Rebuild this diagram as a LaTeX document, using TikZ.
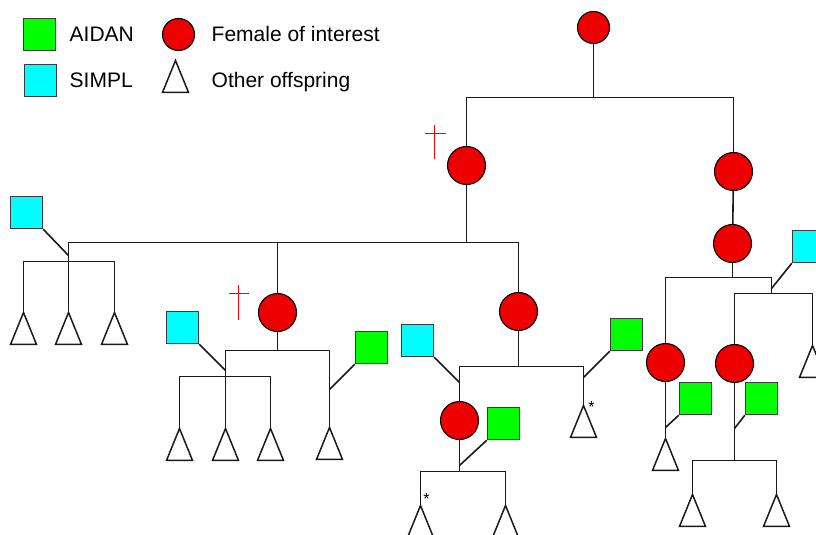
\documentclass[tikz,border=0pt]{standalone}
\usepackage{fontspec}
\setmainfont{Liberation Sans}
\usetikzlibrary{shapes.geometric}
\definecolor{fem}{HTML}{EE0000}
\definecolor{aidan}{HTML}{00FF00}
\definecolor{simpl}{HTML}{00FFFF}
\definecolor{ln}{HTML}{1A1A1A}
\definecolor{crossred}{HTML}{FF0000}
\begin{document}
\begin{tikzpicture}[x=1bp,y=-1bp,
  conn/.style={draw=ln, line width=1.6bp},
  female/.style={circle, draw=black, line width=1.1bp, fill=fem, minimum size=38bp, inner sep=0},
  aidanbox/.style={rectangle, draw=ln!85, line width=1.3bp, fill=aidan, minimum size=32bp, inner sep=0},
  simplbox/.style={rectangle, draw=ln!85, line width=1.3bp, fill=simpl, minimum size=32bp, inner sep=0},
  tri/.style={isosceles triangle, isosceles triangle stretches, shape border rotate=90,
    minimum width=26bp, minimum height=32bp, inner sep=0, draw=ln, line width=1.5bp, fill=white, anchor=apex},
  lbl/.style={anchor=base west, inner sep=0, font=\fontsize{21bp}{25bp}\selectfont},
  star/.style={anchor=base, inner sep=0, font=\fontsize{16bp}{18bp}\selectfont},
  crossmark/.style={draw=crossred, line width=1.1bp}]
\useasboundingbox (0,0) rectangle (816,535);
\clip (0,0) rectangle (816,535);
\begin{scope}[shift={(0.5,0.5)}]
% legend
\node[aidanbox] (lgA) at (39,34) {};
\node[simplbox] (lgS) at (40,80) {};
\node[female, minimum size=32bp] (lgF) at (178,34) {};
\node[tri] (lgT) at (175,58) {};
\node[lbl] (tA) at (69,41) {AIDAN};
\node[lbl] (tS) at (69,87) {SIMPL};
\node[lbl] (tF) at (211,41) {Female of interest};
\node[lbl] (tO) at (211,87) {Other offspring};
% females
\node[female, minimum size=32bp] (F0) at (593,27) {};
\node[female] (F1) at (466,165) {};
\node[female] (F2) at (733,171) {};
\node[female] (F3) at (732,243) {};
\node[female] (F4) at (277,312) {};
\node[female] (F5) at (518,311) {};
\node[female] (F6) at (459,420) {};
\node[female] (F7) at (665,362) {};
\node[female] (F8) at (734,363) {};
% males
\node[simplbox] (S1) at (26,212) {};
\node[simplbox] (S2) at (182,327) {};
\node[simplbox] (S3) at (417,340) {};
\node[simplbox] (S4) at (808,246) {};
\node[aidanbox] (G1) at (371,347) {};
\node[aidanbox] (G2) at (503,423) {};
\node[aidanbox] (G3) at (626,334) {};
\node[aidanbox] (G4) at (695,398) {};
\node[aidanbox] (G5) at (761,398) {};
% offspring
\node[tri] (T1a) at (23,310) {};
\node[tri] (T1b) at (68,310) {};
\node[tri] (T1c) at (114,310) {};
\node[tri] (T2a) at (179,426) {};
\node[tri] (T2b) at (225,426) {};
\node[tri] (T2c) at (270,426) {};
\node[tri] (T2d) at (329,425) {};
\node[tri] (T3) at (583,403) {};
\node[tri] (T4a) at (420,503) {};
\node[tri] (T4b) at (505,503) {};
\node[tri] (T5) at (812,343) {};
\node[tri] (T6) at (665,436) {};
\node[tri] (T7a) at (692,492) {};
\node[tri] (T7b) at (776,492) {};
% asterisks
\node[star] (ast1) at (591,412) {*};
\node[star] (ast2) at (426,504) {*};
% crosses
\draw[crossmark] (434,125) -- (434,159) (424,133) -- (445,133);
\draw[crossmark] (238,285) -- (238,319) (228,293) -- (248,293);
% junctions
\coordinate (h0) at (593,97);
\coordinate (h1) at (466,242);
\coordinate (a1) at (68,242);
\coordinate (m1) at (68,255);
\coordinate (b1) at (68,261);
\coordinate (c1) at (277,350);
\coordinate (c4) at (225,376);
\coordinate (c5) at (225,370);
\coordinate (c6) at (329,389);
\coordinate (d1) at (518,366);
\coordinate (d2) at (459,382);
\coordinate (d3) at (583,377);
\coordinate (e1) at (459,471);
\coordinate (e2) at (459,465);
\coordinate (g1) at (732,277);
\coordinate (g2) at (771,277);
\coordinate (g3) at (771,293);
\coordinate (g4) at (771,288);
\coordinate (k1) at (734,460);
\coordinate (k2) at (665,427);
\coordinate (k3) at (734,428);
% connectors
\draw[conn] (F0) -- (h0);
\draw[conn] (F1) |- (h0) -| (F2);
\draw[conn] (F2) -- (F3);
\draw[conn] (F1) -- (h1);
\draw[conn] (a1) -- (h1);
\draw[conn] (F4) |- (h1);
\draw[conn] (F5) |- (h1);
\draw[conn] (a1) -- (T1b.apex);
\draw[conn] (S1.south east) -- (m1);
\draw[conn] (T1a.apex) |- (b1) -| (T1c.apex);
\draw[conn] (F4) -- (c1);
\draw[conn] (T2b.apex) |- (c1) -| (T2d.apex);
\draw[conn] (T2a.apex) |- (c4) -| (T2c.apex);
\draw[conn] (S2.south east) -- (c5);
\draw[conn] (G1.south west) -- (c6);
\draw[conn] (F5) -- (d1);
\draw[conn] (F6) |- (d1) -| (T3.apex);
\draw[conn] (S3.south east) -- (d2);
\draw[conn] (G3.south west) -- (d3);
\draw[conn] (F6) -- (e1);
\draw[conn] (T4a.apex) |- (e1) -| (T4b.apex);
\draw[conn] (G2.south west) -- (e2);
\draw[conn] (F3) -- (g1);
\draw[conn] (F7) |- (g2);
\draw[conn] (g2) -- (g3);
\draw[conn] (F8) |- (g3) -| (T5.apex);
\draw[conn] (S4.south west) -- (g4);
\draw[conn] (F7) -- (T6.apex);
\draw[conn] (G4.south west) -- (k2);
\draw[conn] (F8) -- (k1);
\draw[conn] (T7a.apex) |- (k1) -| (T7b.apex);
\draw[conn] (G5.south west) -- (k3);
\end{scope}
\end{tikzpicture}
\end{document}
